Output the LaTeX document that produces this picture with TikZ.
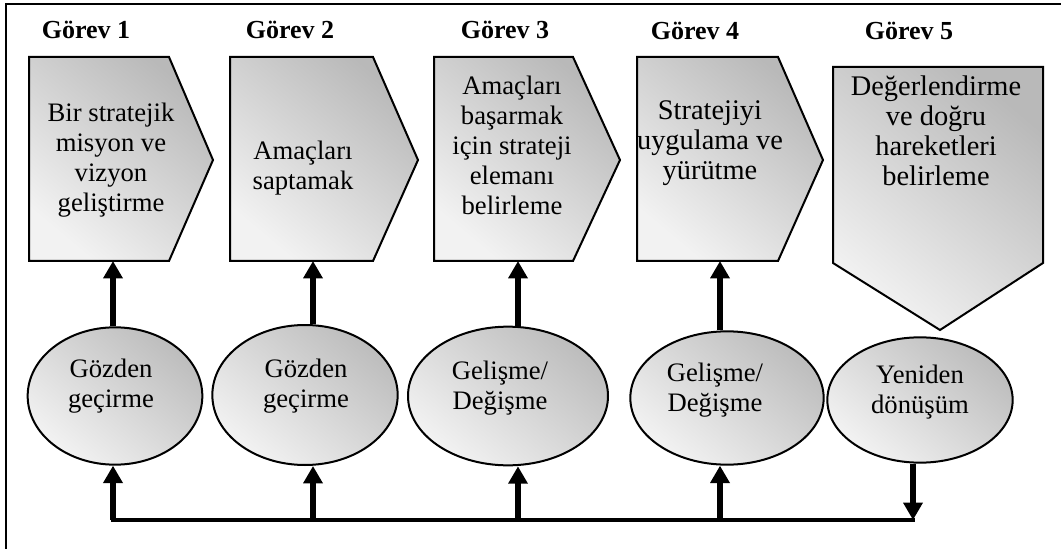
\documentclass[tikz,border=0pt]{standalone}
\usepackage{fontspec}
\setmainfont{Liberation Serif}
\usetikzlibrary{arrows.meta,shapes.geometric}

\begin{document}
\begin{tikzpicture}[x=0.75pt,y=-0.75pt,
  panel/.style={draw=black,line width=1.5pt,top color=gray!55,bottom color=gray!10,shading angle=-40},
  oval/.style={ellipse,draw=black,line width=1.5pt,inner sep=0pt,top color=gray!52,bottom color=gray!10,shading angle=-40},
  head/.style={font=\fontsize{19.5}{22}\selectfont\bfseries},
  body/.style={font=\fontsize{20}{22.5}\selectfont,align=center,inner sep=0pt},
  bigbody/.style={body,font=\fontsize{21.3}{22.5}\selectfont},
  arr/.style={line width=3.8pt,-{Triangle[width=14pt,length=13pt]}},
  trunk/.style={line width=3pt,line cap=rect},
]
\useasboundingbox (0,0) rectangle (1061,549);

% frame (top and left edges)
\draw[line width=1pt] (6,549) -- (6,4) -- (1061,4);

% headings
\node[head] (h1) at (86,30) {Görev 1};
\node[head] (h2) at (290,30) {Görev 2};
\node[head] (h3) at (505,30) {Görev 3};
\node[head] (h4) at (695,31) {Görev 4};
\node[head] (h5) at (909,31) {Görev 5};

% task panels
\draw[panel] (29,57) -- (169,57) -- (213,160) -- (169,261) -- (29,261) -- cycle;
\draw[panel] (230,57) -- (373,57) -- (418,160) -- (373,261) -- (230,261) -- cycle;
\draw[panel] (434,57) -- (573,57) -- (620,160) -- (573,261) -- (434,261) -- cycle;
\draw[panel] (637,57) -- (778,57) -- (823,160) -- (778,261) -- (637,261) -- cycle;
\draw[panel] (833,67) -- (1043,67) -- (1043,263) -- (940,330) -- (833,263) -- cycle;

% panel texts
\node[body] (t1) at (111,160) {Bir stratejik\\misyon ve\\vizyon\\geliştirme};
\node[body] (t2) at (303,168) {Amaçları\\saptamak};
\node[body] (t3) at (512,145) {Amaçları\\başarmak\\için strateji\\elemanı\\belirleme};
\node[bigbody] (t4) at (710,143) {Stratejiyi\\uygulama ve\\yürütme};
\node[bigbody] (t5) at (936,131) {Değerlendirme\\ve doğru\\hareketleri\\belirleme};

% panel bottoms
\coordinate (b1) at (113,261);
\coordinate (b2) at (313,261);
\coordinate (b3) at (518,261);
\coordinate (b4) at (720,261);

% review ellipses
\node[oval,minimum width=131pt,minimum height=103pt] (e1) at (115,396) {};
\node[oval,minimum width=139pt,minimum height=105pt] (e2) at (305,395) {};
\node[oval,minimum width=150pt,minimum height=104pt] (e3) at (508,396) {};
\node[oval,minimum width=145pt,minimum height=100pt] (e4) at (727,398) {};
\node[oval,minimum width=139pt,minimum height=94pt] (e5) at (920,400) {};

\node[body] (l1) at (111,386) {Gözden\\geçirme};
\node[body] (l2) at (306,386) {Gözden\\geçirme};
\node[body] (l3) at (500,388) {Gelişme/\\Değişme};
\node[body] (l4) at (715,390) {Gelişme/\\Değişme};
\node[body] (l5) at (920,392) {Yeniden\\dönüşüm};

% feedback line
\coordinate (j1) at (113,520);
\coordinate (j2) at (313,520);
\coordinate (j3) at (518,520);
\coordinate (j4) at (720,520);
\coordinate (j5) at (913,520);
\draw[trunk] (j1) -- (j5);

% arrows from the feedback line up to the ellipses
\draw[arr] (j1) -- (j1 |- e1.south);
\draw[arr] (j2) -- (j2 |- e2.south);
\draw[arr] (j3) -- (j3 |- e3.south);
\draw[arr] (j4) -- (j4 |- e4.south);
\draw[arr] (j5 |- e5.south) -- (j5);

% arrows from the ellipses up to the panels
\draw[arr] (b1 |- e1.north) -- (b1);
\draw[arr] (b2 |- e2.north) -- (b2);
\draw[arr] (b3 |- e3.north) -- (b3);
\draw[arr] (b4 |- e4.north) -- (b4);
\end{tikzpicture}
\end{document}
